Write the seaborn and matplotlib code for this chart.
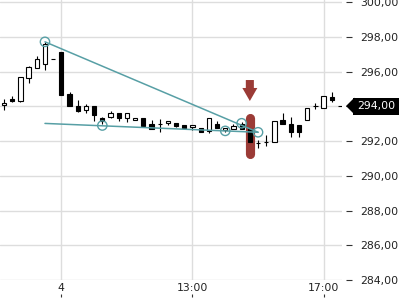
import numpy as np
import pandas as pd
import matplotlib
matplotlib.use("Agg")
import matplotlib.pyplot as plt
import matplotlib.transforms as mtransforms
from matplotlib.ticker import FuncFormatter
import seaborn as sns

# ---------------- data ----------------
opens = [294.08, 294.45, 294.30, 295.66, 296.20, 296.46, 296.73, 297.15, 294.70, 294.02,
         293.79, 294.02, 293.33, 293.39, 293.62, 293.33, 293.22, 293.32, 292.99, 292.99,
         293.05, 293.06, 292.93, 292.82, 292.78, 292.60, 292.99, 292.64, 292.70, 292.99,
         292.70, 291.90, 291.93, 291.97, 293.22, 292.97, 292.93, 293.22, 294.04, 293.89,
         294.56, 294.00]
highs = [294.42, 294.60, 295.70, 296.30, 296.92, 297.72, 296.73, 297.15, 294.85, 294.38,
         294.14, 294.02, 293.38, 293.74, 293.62, 293.62, 293.33, 293.32, 293.22, 293.28,
         293.18, 293.06, 292.93, 292.93, 292.78, 293.33, 293.16, 292.76, 292.99, 293.10,
         292.93, 292.07, 292.35, 293.18, 293.60, 293.38, 292.93, 293.89, 294.22, 294.60,
         294.82, 294.00]
lows = [293.78, 294.24, 294.28, 295.33, 296.20, 296.12, 296.73, 294.66, 294.04, 293.70,
        293.62, 293.14, 292.97, 293.35, 293.16, 293.10, 293.22, 292.87, 292.70, 292.53,
        292.93, 292.83, 292.78, 292.64, 292.53, 292.47, 292.76, 292.53, 292.70, 292.70,
        291.84, 291.59, 291.74, 291.97, 292.97, 292.26, 292.22, 293.22, 293.85, 293.89,
        294.24, 294.00]
closes = [294.20, 294.30, 295.68, 296.29, 296.72, 297.58, 296.73, 294.66, 294.04, 293.72,
          294.02, 293.50, 293.18, 293.62, 293.33, 293.62, 293.33, 292.90, 292.70, 292.99,
          293.18, 292.89, 292.78, 292.93, 292.53, 293.33, 292.76, 292.76, 292.87, 292.70,
          291.97, 291.90, 291.93, 293.18, 292.97, 292.55, 292.55, 293.89, 294.04, 294.60,
          294.37, 294.00]

x_tick_pos = [7, 23, 39]
x_tick_labels = ["4", "13:00", "17:00"]
y_ticks = [284, 286, 288, 290, 292, 294, 296, 298, 300]
last_price = 294.00

pivot_idx = [5, 12, 27, 29, 31]
pivot_price = [297.72, 292.90, 292.59, 293.03, 292.51]
upper_line_idx = [5, 31]
upper_line_price = [297.72, 292.51]
lower_line_idx = [5, 31]
lower_line_price = [293.02, 292.51]

highlight_idx = 30
highlight_range = [291.23, 293.36]
arrow_from = 295.52
arrow_to = 294.31

# ---------------- style ----------------
sns.set_theme(style="white")
plt.rcParams['font.family'] = ['DejaVu Sans']

TEAL = "#579fa5"
RED = "#9b3b36"
GRID = "#dddddd"
TXT = "#222222"

fig = plt.figure(figsize=(4, 3), dpi=100)
ax = fig.add_axes([0, 20 / 300, 342 / 400, 280 / 300])

n = len(opens)
idx = np.arange(n)
o = np.array(opens); c = np.array(closes)
h = np.array(highs); l = np.array(lows)
up = c >= o

# wicks
ax.vlines(idx, l, h, color="black", lw=0.8, zorder=2)

# highlight bar
ax.plot([highlight_idx, highlight_idx], highlight_range, color=RED, lw=6.6,
        solid_capstyle="round", zorder=2.5)

# bodies
ax.bar(idx, np.abs(c - o), bottom=np.minimum(o, c), width=0.52,
       color=np.where(up, "white", "black"), edgecolor="black", linewidth=0.8, zorder=3)

# trend lines
lines_df = pd.DataFrame({"x": upper_line_idx, "y": upper_line_price})
sns.lineplot(data=lines_df, x="x", y="y", ax=ax, color=TEAL, lw=1.1, zorder=4)
lines_df2 = pd.DataFrame({"x": lower_line_idx, "y": lower_line_price})
sns.lineplot(data=lines_df2, x="x", y="y", ax=ax, color=TEAL, lw=1.1, zorder=4)

# pivot circles
sns.scatterplot(x=pivot_idx, y=pivot_price, ax=ax, s=45, color=TEAL, zorder=5)
pts = ax.collections[-1]
pts.set_facecolor("none")
pts.set_edgecolor(TEAL)
pts.set_linewidth(1.0)

# arrow
ax.annotate("", xy=(highlight_idx, arrow_to), xytext=(highlight_idx, arrow_from),
            arrowprops=dict(arrowstyle="simple,head_width=10.8,head_length=9.4,tail_width=5.8",
                            mutation_scale=1, color=RED, shrinkA=0, shrinkB=0, lw=0),
            zorder=6)

# axes limits
ax.set_xlim(-0.488, -0.488 + 342 / 8.195)
ax.set_ylim(284, 300.13)

# grid
ax.set_xticks(x_tick_pos)
ax.set_xticklabels(x_tick_labels)
ax.set_yticks(y_ticks)
ax.grid(True, color=GRID, lw=1)
ax.set_axisbelow(True)
for s in ax.spines.values():
    s.set_visible(False)

ax.set_xlabel("")
ax.set_ylabel("")

# y axis on right
ax.yaxis.tick_right()
ax.spines['right'].set_position(('outward', 3))
ax.yaxis.set_major_formatter(FuncFormatter(
    lambda v, p: "" if abs(v - last_price) < 1e-6 else f"{v:.2f}".replace(".", ",")))
ax.tick_params(axis="y", direction="out", length=4.3, width=0.8, color="#333333",
               pad=6.0, labelsize=7.8, labelcolor=TXT, right=True, left=False)
ax.tick_params(axis="x", length=0, pad=2.2, labelsize=7.8, labelcolor=TXT)

# small tick marks below the x labels
ax2 = ax.secondary_xaxis(-0.05)
ax2.set_xticks(x_tick_pos)
ax2.set_xticklabels([""] * len(x_tick_pos))
ax2.tick_params(axis="x", direction="out", length=2.5, width=0.8, color="#333333")
for s in ax2.spines.values():
    s.set_visible(False)

# last price label
trans = mtransforms.blended_transform_factory(ax.transAxes, ax.transData)
ax.text(357 / 342, last_price, f"{last_price:.2f}".replace(".", ","), transform=trans,
        ha="left", va="center", color="white", fontsize=7.8,
        bbox=dict(boxstyle="square,pad=0.35", fc="black", ec="none"), clip_on=False, zorder=10)
ax.plot([350 / 342], [last_price], transform=trans,
        marker=[(-0.5, 0), (0.5, 1), (0.5, -1)], markersize=11.5,
        color="black", clip_on=False, zorder=10)

fig.savefig("out.png", dpi=100)
